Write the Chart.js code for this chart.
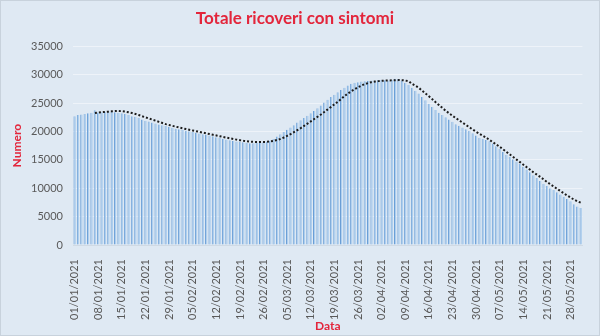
<!DOCTYPE html>
<html>
<head>
<meta charset="utf-8">
<script src="https://cdn.jsdelivr.net/npm/chart.js@4.4.1/dist/chart.umd.min.js"></script>
<style>
  html, body { margin: 0; padding: 0; background: #dfe9f3; }
  #box { width: 600px; height: 336px; }
</style>
</head>
<body>
<div id="box"><canvas id="myChart" width="600" height="336"></canvas></div>
<script>
// daily values, 01/01/2021 - 31/05/2021
const ricoveri = [
  22700, 22900, 23000, 23100, 23200, 23300, 23750, 23350, 23400, 23450,
  23550, 23500, 23400, 23300, 23200, 23100, 22900, 22700, 22600, 22400,
  22100, 21900, 21750, 21600, 21400, 21250, 21100, 20950, 20800, 20650,
  20500, 20400, 20250, 20150, 20050, 19900, 19800, 19650, 19500, 19400,
  19300, 19150, 19000, 18850, 18700, 18600, 18450, 18350, 18250, 18150,
  18100, 18000, 17950, 17950, 18000, 18050, 18100, 18200, 18350, 18700,
  19100, 19500, 19900, 20300, 20700, 21100, 21600, 22000, 22400, 22800,
  23200, 23600, 24100, 24600, 25100, 25600, 26100, 26500, 26900, 27300,
  27700, 28100, 28400, 28600, 28700, 28800, 28850, 28900, 29000, 29000,
  29050, 29100, 29050, 29000, 29100, 29300, 29250, 29000, 28600, 28200,
  27700, 27200, 26700, 26100, 25500, 24900, 24300, 23800, 23300, 22900,
  22500, 22100, 21700, 21300, 21000, 20700, 20400, 20100, 19700, 19300,
  18900, 18700, 18500, 18300, 17900, 17400, 16900, 16400, 15900, 15500,
  15100, 14700, 14300, 13800, 13300, 12800, 12300, 11800, 11300, 10800,
  10400, 10000, 9700, 9300, 8900, 8500, 8100, 7700, 7200, 6800,
  6500
];

// dotted trend line (starts on day 7)
const tendenza = [
  null, null, null, null, null, null, 23250, 23330, 23400, 23450,
  23500, 23560, 23600, 23620, 23580, 23500, 23400, 23260, 23100, 22900,
  22700, 22500, 22300, 22100, 21900, 21700, 21500, 21300, 21150, 21000,
  20850, 20700, 20560, 20430, 20300, 20180, 20050, 19930, 19800, 19680,
  19550, 19420, 19300, 19170, 19040, 18920, 18800, 18680, 18570, 18470,
  18370, 18290, 18230, 18180, 18150, 18140, 18150, 18180, 18250, 18350,
  18500, 18700, 18950, 19250, 19550, 19900, 20250, 20600, 21000, 21400,
  21800, 22200, 22600, 23000, 23450, 23900, 24350, 24800, 25250, 25750,
  26250, 26700, 27100, 27450, 27800, 28100, 28350, 28550, 28700, 28800,
  28880, 28940, 28980, 29000, 29020, 29040, 29060, 29050, 28980, 28850,
  28400, 28050, 27700, 27200, 26700, 26200, 25700, 25150, 24650, 24150,
  23650, 23200, 22750, 22350, 21950, 21550, 21150, 20750, 20350, 19950,
  19600, 19250, 18900, 18500, 18100, 17700, 17300, 16850, 16400, 15950,
  15500, 15050, 14600, 14150, 13700, 13250, 12800, 12400, 12000, 11550,
  11100, 10700, 10300, 9900, 9500, 9100, 8700, 8350, 8000, 7700,
  7450
];

const yTicks = [0, 5000, 10000, 15000, 20000, 25000, 30000, 35000];

// category labels dd/mm/yyyy
const date = [];
for (let i = 0; i < ricoveri.length; i++) {
  const d = new Date(2021, 0, 1 + i);
  const dd = String(d.getDate()).padStart(2, '0');
  const mm = String(d.getMonth() + 1).padStart(2, '0');
  date.push(dd + '/' + mm + '/' + d.getFullYear());
}

const red = '#e3253b';
const grey = '#595959';

const bgPlugin = {
  id: 'bg',
  beforeDraw(chart) {
    const c = chart.ctx;
    c.save();
    c.fillStyle = '#dfe9f3';
    c.fillRect(0, 0, chart.width, chart.height);
    c.strokeStyle = '#c8d2dc';
    c.lineWidth = 1;
    c.strokeRect(0.5, 0.5, chart.width - 1, chart.height - 1);
    c.restore();
  }
};

new Chart(document.getElementById('myChart'), {
  data: {
    labels: date,
    datasets: [{
      type: 'line',
      label: 'Tendenza',
      data: tendenza,
      borderColor: '#1c1c1c',
      borderWidth: 2,
      borderDash: [2, 2],
      pointRadius: 0,
      fill: false,
      order: 0
    }, {
      type: 'bar',
      label: 'Totale ricoveri con sintomi',
      data: ricoveri,
      backgroundColor: '#afcfee',
      borderColor: '#6a9ed6',
      borderWidth: { left: 1, right: 0, top: 0, bottom: 0 },
      barPercentage: 0.72,
      categoryPercentage: 1,
      order: 1
    }]
  },
  options: {
    responsive: false,
    animation: false,
    layout: { padding: { left: 6, right: 16, top: 0, bottom: 0 } },
    plugins: {
      legend: { display: false },
      tooltip: { enabled: false },
      title: {
        display: true,
        text: 'Totale ricoveri con sintomi',
        color: red,
        font: { family: 'Lato', size: 17, weight: 'bold' },
        padding: { top: 8, bottom: 18 }
      }
    },
    scales: {
      x: {
        grid: { display: false },
        border: { display: true, color: '#d0dae4' },
        ticks: {
          autoSkip: false,
          minRotation: 90,
          maxRotation: 90,
          padding: 6,
          color: grey,
          font: { family: 'Lato', size: 11 },
          callback: (v, i) => (i % 7 === 0 ? date[i] : '')
        },
        title: {
          display: true,
          text: 'Data',
          color: red,
          font: { family: 'Lato', size: 12, weight: 'bold' },
          padding: { top: 0, bottom: 3 }
        },
        afterFit: s => { s.height = 91; }
      },
      y: {
        min: 0,
        max: 35000,
        afterBuildTicks: s => { s.ticks = yTicks.map(v => ({ value: v })); },
        grid: { color: '#eef3f9', drawTicks: false },
        border: { display: false },
        ticks: {
          padding: 10,
          color: grey,
          font: { family: 'Lato', size: 11 },
          callback: v => String(v)
        },
        title: {
          display: true,
          text: 'Numero',
          color: red,
          font: { family: 'Lato', size: 12, weight: 'bold' }
        },
        afterFit: s => { s.width = 67; }
      }
    }
  },
  plugins: [bgPlugin]
});
</script>
</body>
</html>
